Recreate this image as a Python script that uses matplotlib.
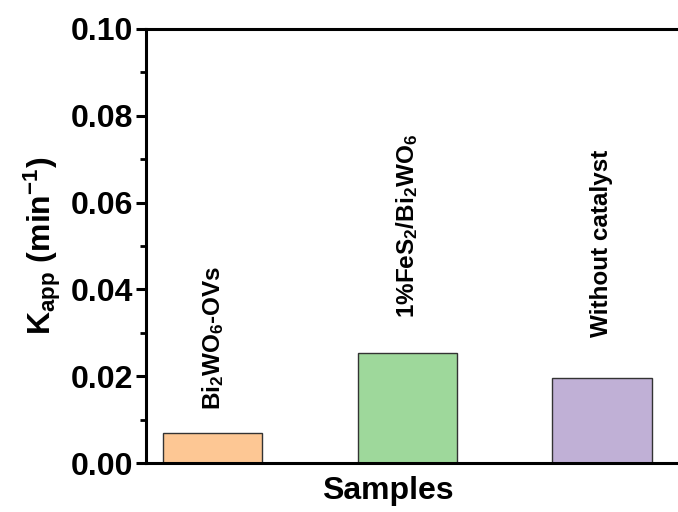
import matplotlib.pyplot as plt
import numpy as np

# Dati
samples = ['Bi$_2$WO$_6$-OVs', '1%FeS$_2$/Bi$_2$WO$_6$', 'Without catalyst']
kapp = [0.0069, 0.0254, 0.0196]
label_y = [0.0122, 0.0334, 0.0290]
colors = ['#FDC794', '#9ED89B', '#C0B0D6']

plt.rcParams['font.family'] = ['Liberation Sans', 'DejaVu Sans']
plt.rcParams['font.weight'] = 'bold'
plt.rcParams['mathtext.fontset'] = 'custom'
plt.rcParams['mathtext.rm'] = 'Liberation Sans:bold'
plt.rcParams['mathtext.it'] = 'Liberation Sans:bold'
plt.rcParams['mathtext.bf'] = 'Liberation Sans:bold'
plt.rcParams['mathtext.default'] = 'rm'

fig = plt.figure(figsize=(6.78, 5.12), dpi=100)
ax = fig.add_axes([0.2153, 0.0957, 0.816, 0.8477])

x = np.arange(1, len(samples) + 1)
ax.bar(x, kapp, width=0.51, color=colors, edgecolor='#333333', linewidth=1.0)

# Etichette verticali sopra le barre
for xi, yi, lab in zip(x, label_y, samples):
    ax.text(xi, yi, lab, rotation=90, ha='center', va='bottom',
            fontsize=17.5, fontweight='bold')

ax.set_xlim(0.656, 3.5)
ax.set_ylim(0, 0.10)
ax.set_yticks(np.arange(0, 0.101, 0.02))
ax.set_yticks(np.arange(0, 0.101, 0.01), minor=True)
ax.set_yticklabels([f'{v:.2f}' for v in np.arange(0, 0.101, 0.02)])
ax.set_xticks([])

for s in ax.spines.values():
    s.set_linewidth(2.2)
ax.spines['right'].set_visible(False)

ax.tick_params(axis='y', which='major', direction='out', length=7, width=2.2,
               labelsize=23, pad=2)
ax.tick_params(axis='y', which='minor', direction='out', length=4, width=2.0)

ax.set_ylabel('K$_{app}$ (min$^{-1}$)', fontsize=23, fontweight='bold', labelpad=6)
ax.set_xlabel('Samples', fontsize=23, fontweight='bold')
ax.xaxis.set_label_coords(0.4376, -0.03, transform=ax.transAxes)
ax.xaxis.label.set_va('top')

plt.savefig('out.png', dpi=100)
plt.close()
